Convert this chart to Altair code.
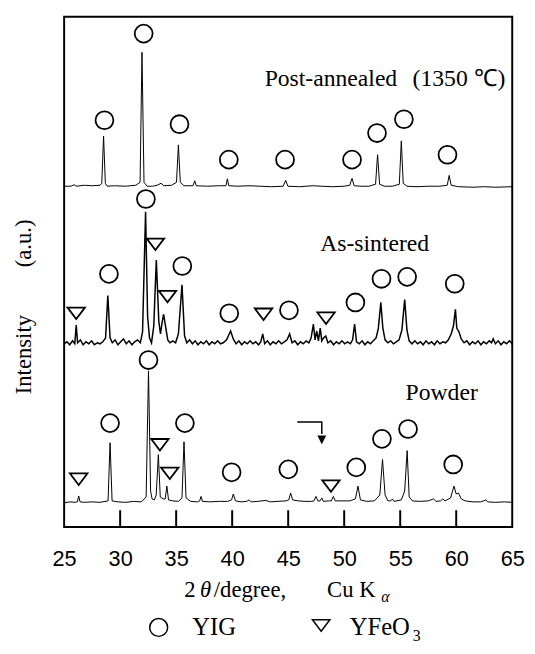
import altair as alt
import pandas as pd

# ---------------- data ----------------
# 2theta (degree) and intensity above each trace's own baseline (arb. units)
post_x = [25.0, 25.6, 25.9, 26.1, 26.8, 27.5, 28.2, 28.36, 28.52, 28.68, 28.85, 29.5, 30.5, 31.4, 31.78,
          31.95, 32.13, 32.4, 32.9, 33.3, 33.65, 33.9, 34.6, 35.03, 35.2, 35.37, 35.7, 36.5, 36.66,
          36.8, 37.8, 38.8, 39.45, 39.57, 39.7, 40.5, 41.5, 42.5, 43.5, 44.55, 44.78, 44.97, 46.0,
          47.2, 48.0, 49.0, 50.0, 50.5, 50.7, 50.88, 51.5, 52.2, 52.8, 52.98, 53.16, 53.6, 54.3,
          54.92, 55.1, 55.27, 55.6, 56.5, 57.5, 58.5, 59.2, 59.37, 59.55, 60.2, 61.5, 62.5, 63.5, 65.0]
post_h = [1, 1, 2.5, 1, 2, 1.5, 2, 4, 52, 4, 1, 1.5, 1, 2, 5,
          137, 5, 1, 1, 2, 4, 1.5, 2, 5, 43, 5, 1.5, 1.5, 6.5,
          1.5, 1, 1.5, 1.5, 8.5, 1.5, 1, 1.5, 1, 0.5, 1, 7, 1, 0.5,
          1.5, 1, 0.5, 1, 2, 9, 1.5, 1, 1, 3, 33, 3, 1, 1,
          3, 47, 4, 1, 0.5, 1, 1, 2, 12, 2, 0.5, 0, 0.5, 0, 0.5]

sint_x = [25.0, 25.25, 25.5, 25.75, 25.95, 26.08, 26.2, 26.45, 26.7, 26.95, 27.2, 27.45, 27.7, 27.95,
          28.2, 28.45, 28.7, 28.9, 29.1, 29.3, 29.55, 29.8, 30.05, 30.3, 30.55, 30.8, 31.05, 31.3,
          31.55, 31.8, 32.0, 32.27, 32.45, 32.62, 32.8, 33.0, 33.23, 33.45, 33.6, 33.75, 33.88, 34.05,
          34.25, 34.45, 34.7, 34.95, 35.2, 35.52, 35.75, 35.95, 36.2, 36.45, 36.7, 36.95, 37.2, 37.45,
          37.7, 37.95, 38.2, 38.45, 38.7, 38.95, 39.2, 39.5, 39.86, 40.1, 40.35, 40.6, 40.85, 41.1,
          41.35, 41.6, 41.85, 42.1, 42.35, 42.55, 42.73, 42.9, 43.15, 43.4, 43.65, 43.9, 44.15, 44.4,
          44.65, 44.9, 45.13, 45.35, 45.6, 45.85, 46.1, 46.35, 46.6, 46.85, 47.05, 47.25, 47.4, 47.55,
          47.7, 47.86, 48.0, 48.15, 48.35, 48.55, 48.8, 49.05, 49.3, 49.55, 49.8, 50.05, 50.3, 50.55,
          50.75, 50.93, 51.1, 51.35, 51.6, 51.85, 52.1, 52.35, 52.6, 52.85, 53.05, 53.27, 53.45, 53.65,
          53.9, 54.15, 54.4, 54.65, 54.9, 55.15, 55.4, 55.6, 55.8, 56.05, 56.3, 56.55, 56.8, 57.05,
          57.3, 57.55, 57.8, 58.05, 58.3, 58.55, 58.8, 59.05, 59.3, 59.55, 59.75, 59.93, 60.05, 60.25,
          60.45, 60.7, 60.95, 61.2, 61.45, 61.7, 61.95, 62.2, 62.45, 62.7, 62.95, 63.15, 63.3, 63.5,
          63.75, 64.0, 64.25, 64.5, 64.75, 65.0]
sint_h = [2, 4, 1, 5, 2, 21, 3, 6, 1, 4, 2, 5, 1, 3,
          2, 4, 8, 51, 8, 3, 6, 1, 4, 7, 2, 5, 1, 4,
          6, 3, 14, 136, 30, 8, 3, 20, 87, 25, 12, 24, 32, 20,
          6, 3, 5, 3, 12, 62, 10, 3, 6, 2, 5, 1, 4, 2,
          5, 1, 4, 2, 5, 2, 3, 6, 15, 7, 2, 5, 1, 4,
          2, 5, 2, 4, 1, 4, 12, 2, 5, 1, 4, 2, 5, 2,
          4, 6, 12, 3, 5, 1, 4, 2, 5, 3, 8, 22, 6, 15,
          5, 18, 5, 8, 10, 3, 5, 1, 4, 2, 5, 2, 4, 2,
          6, 22, 4, 2, 5, 1, 4, 2, 5, 8, 18, 44, 18, 6,
          3, 5, 2, 4, 6, 16, 47, 16, 5, 2, 5, 2, 4, 1,
          5, 2, 4, 1, 5, 2, 4, 3, 6, 12, 20, 37, 18, 14,
          7, 3, 5, 1, 4, 2, 5, 1, 4, 2, 5, 3, 7, 2,
          5, 1, 4, 2, 5, 2]

powd_x = [25.0, 25.5, 26.0, 26.18, 26.3, 26.42, 26.8, 27.5, 28.2, 28.92, 29.1, 29.28, 29.8, 30.5, 31.2,
          31.9, 32.32, 32.53, 32.72, 32.85, 33.05, 33.22, 33.41, 33.58, 33.85, 34.02, 34.17, 34.32,
          34.7, 35.2, 35.52, 35.7, 35.88, 36.3, 36.9, 37.1, 37.22, 37.35, 38.0, 38.8, 39.6, 39.95,
          40.1, 40.3, 40.8, 41.3, 41.5, 41.7, 42.3, 43.0, 43.4, 44.0, 44.8, 45.05, 45.22, 45.4,
          45.9, 46.5, 47.1, 47.3, 47.48, 47.65, 47.85, 48.0, 48.15, 48.6, 48.85, 49.03, 49.2, 49.8,
          50.5, 51.0, 51.23, 51.45, 52.0, 52.7, 53.18, 53.42, 53.65, 53.9, 54.15, 54.3, 54.45, 55.1,
          55.4, 55.62, 55.8, 56.1, 56.8, 57.5, 57.97, 58.2, 58.6, 58.8, 59.0, 59.5, 59.8, 60.0,
          60.2, 60.45, 60.8, 61.5, 62.2, 62.65, 62.8, 63.5, 64.3, 65.0]
powd_h = [0, 1, 0.5, 1, 7, 1, 0.5, 1, 0.5, 2, 61, 2, 1, 0.5, 1.5,
          1, 6, 134, 12, 4, 3, 8, 49, 6, 4, 4, 17, 3,
          2, 1.5, 5, 62, 5, 1.5, 1, 2, 6.5, 1.5, 1, 1.5, 1.5, 3,
          9, 2, 1, 1.5, 3, 1, 1.5, 2.5, 1, 1.5, 2, 3, 10, 3,
          2, 1.5, 1.5, 2, 6.5, 2, 2, 5, 1.5, 2, 2, 6.5, 2, 2,
          2, 4, 17, 3, 1.5, 2, 8, 44, 8, 2, 2, 4, 1.5, 3,
          12, 53, 6, 2, 1.5, 2, 4, 1.5, 2, 4, 2, 5, 17, 9,
          10, 4, 2, 1, 1, 3, 1, 0.5, 1, 0.5]

# phase markers: position and height above the trace baseline
yig_post_x = [28.6, 32.1, 35.3, 39.7, 44.72, 50.7, 52.93, 55.33, 59.22]
yig_post_h = [68, 156, 64, 28, 28, 28, 55, 69, 33]
yig_sint_x = [29.0, 32.3, 35.55, 39.74, 45.07, 51.0, 53.33, 55.62, 59.87]
yig_sint_h = [71, 147, 79, 31, 34, 42, 66, 68, 61]
yfo_sint_x = [26.08, 33.15, 34.23, 42.8, 48.38]
yfo_sint_h = [31, 101, 48, 30, 26]
yig_powd_x = [29.1, 32.53, 35.78, 39.95, 45.01, 51.08, 53.37, 55.7, 59.73]
yig_powd_h = [81, 145, 81, 31, 34, 36, 65, 75, 39]
yfo_powd_x = [26.3, 33.55, 34.43, 48.82]
yfo_powd_h = [24, 59, 30, 17]

# bent arrow in the powder panel (2theta, height)
arrow_x = [45.81, 48.0, 48.0]
arrow_h = [82, 82, 70]
arrow_head_x = [48.0]
arrow_head_h = [64]

tick_labels = [25, 30, 35, 40, 45, 50, 55, 60, 65]
inner_ticks = [30, 35, 40, 45, 50, 55, 60]

panel_names = ["Post-annealed", "As-sintered", "Powder"]
panel_label_x = [42.9, 47.86, 55.48]
panel_label_h = [103, 96, 104]
anneal_temp = "(1350  ℃)"
anneal_temp_x = 64.4

# vertical stacking of the three patterns (layout)
BASE = {"post": 345, "sint": 184, "powd": 24.5}

# ---------------- build tables ----------------
def trace(xs, hs, key):
    return pd.DataFrame({"x": xs, "v": [BASE[key] + h for h in hs]})

df_post = trace(post_x, post_h, "post")
df_sint = trace(sint_x, sint_h, "sint")
df_powd = trace(powd_x, powd_h, "powd")

df_yig = pd.concat([trace(yig_post_x, yig_post_h, "post"),
                    trace(yig_sint_x, [h + 2 for h in yig_sint_h], "sint"),
                    trace(yig_powd_x, yig_powd_h, "powd")])
df_yfo = pd.concat([trace(yfo_sint_x, [h + 2 for h in yfo_sint_h], "sint"),
                    trace(yfo_powd_x, yfo_powd_h, "powd")])
df_arrow = trace(arrow_x, arrow_h, "powd")
df_arrow["i"] = range(len(df_arrow))
df_head = trace(arrow_head_x, arrow_head_h, "powd")
df_ticks = pd.DataFrame({"x": inner_ticks, "v": [0] * len(inner_ticks), "v2": [17] * len(inner_ticks)})
df_lab = pd.DataFrame({"x": panel_label_x,
                       "v": [BASE["post"] + panel_label_h[0], BASE["sint"] + panel_label_h[1],
                             BASE["powd"] + panel_label_h[2]],
                       "t": panel_names})
df_temp = pd.DataFrame({"x": [anneal_temp_x], "v": [BASE["post"] + panel_label_h[0]], "t": [anneal_temp]})

W, H = 455, 518
XS = alt.Scale(domain=[25, 65], nice=False, zero=False)
YS = alt.Scale(domain=[0, H], nice=False, zero=False)
X_AXIS = alt.Axis(values=tick_labels, ticks=False, domain=False, grid=False,
                  labelFont="Liberation Sans", labelFontSize=22, labelColor="black",
                  labelPadding=22, labelFlush=False, labelOverlap=False, title=None, format="d")

def X():
    return alt.X("x:Q", scale=XS, axis=X_AXIS)

def Y():
    return alt.Y("v:Q", scale=YS, axis=None)

SERIF = "Liberation Serif"

line_post = alt.Chart(df_post).mark_line(color="black", strokeWidth=1.0).encode(x=X(), y=Y())
line_sint = alt.Chart(df_sint).mark_line(color="black", strokeWidth=1.5).encode(x=X(), y=Y())
line_powd = alt.Chart(df_powd).mark_line(color="black", strokeWidth=1.0).encode(x=X(), y=Y())

circles = alt.Chart(df_yig).mark_point(shape="circle", size=330, filled=False, color="black",
                                       strokeWidth=1.8, opacity=1).encode(x=X(), y=Y())
TRI = "M-1,-0.66L1,-0.66L0,0.66Z"
tris = alt.Chart(df_yfo).mark_point(shape=TRI, size=313, filled=False, color="black",
                                    strokeWidth=1.8, opacity=1).encode(x=X(), y=Y())

arrow = alt.Chart(df_arrow).mark_line(color="black", strokeWidth=1.5).encode(
    x=X(), y=Y(), order=alt.Order("i:Q"))
head = alt.Chart(df_head).mark_point(shape="M-1,-1L1,-1L0,1Z", size=81, filled=True,
                                     color="black", opacity=1).encode(x=X(), y=Y())

ticks = alt.Chart(df_ticks).mark_rule(color="black", strokeWidth=2).encode(
    x=X(), y=Y(), y2="v2:Q")

labels = alt.Chart(df_lab).mark_text(font=SERIF, fontSize=24, align="left", baseline="alphabetic",
                                     color="black").encode(x=X(), y=Y(), text="t:N")
temp = alt.Chart(df_temp).mark_text(font=SERIF, fontSize=24, align="right", baseline="alphabetic",
                                    color="black").encode(x=X(), y=Y(), text="t:N")

one = pd.DataFrame({"a": [0]})

def txt(s, px, py, size=22, **kw):
    opts = dict(text=s, font=SERIF, fontSize=size, color="black", align="left", baseline="alphabetic")
    opts.update(kw)
    return alt.Chart(one).mark_text(**opts).encode(x=alt.value(px), y=alt.value(py))

ytitle = [
    txt("Intensity", -41, 343, size=23, angle=270, align="center", baseline="middle"),
    txt("(a.u.)", -41, 230, size=23, angle=270, align="center", baseline="middle"),
]

xt = [
    txt("2", 122, 589, size=23),
    txt("θ", 138, 589, size=23, fontStyle="italic"),
    txt("/degree,", 152, 589, size=23),
    txt("Cu K", 267, 589, size=23),
    txt("α", 322, 594, size=16, fontStyle="italic"),
]

leg_c = alt.Chart(one).mark_point(shape="circle", size=330, filled=False, color="black",
                                  strokeWidth=1.5, opacity=1).encode(x=alt.value(96), y=alt.value(620))
leg_t = alt.Chart(one).mark_point(shape=TRI, size=313, filled=False, color="black",
                                  strokeWidth=1.5, opacity=1).encode(x=alt.value(261), y=alt.value(618))
leg = [
    leg_c, leg_t,
    txt("YIG", 130, 628, size=25),
    txt("YFeO", 290, 628, size=25),
    txt("3", 354, 634, size=16),
]

chart = alt.layer(
    ticks, line_post, line_sint, line_powd, circles, tris, arrow, head, labels, temp,
    *ytitle, *xt, *leg
).properties(
    width=W, height=H,
    autosize=alt.AutoSizeParams(type="none"),
    padding={"left": 57, "top": 4, "right": 15, "bottom": 124},
).configure_view(stroke="black", strokeWidth=2)

chart.save("out.html", embed_options={"renderer": "svg", "actions": False})
